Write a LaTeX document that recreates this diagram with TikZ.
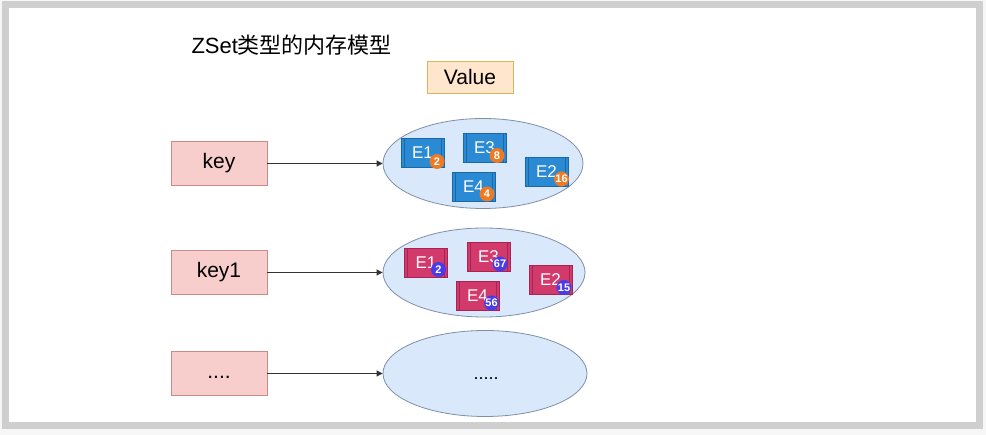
\documentclass[tikz,border=0pt]{standalone}
\usepackage{fontspec}
\setmainfont{Liberation Sans}
\newfontfamily\cjk{Noto Sans CJK SC}
\usetikzlibrary{arrows.meta,shapes.geometric}
\definecolor{frameg}{HTML}{CFCFCF}
\definecolor{keyfill}{HTML}{F8CECC}
\definecolor{keydraw}{HTML}{C98A88}
\definecolor{valfill}{HTML}{FFE6CC}
\definecolor{valdraw}{HTML}{D6B656}
\definecolor{ellfill}{HTML}{DAE8FC}
\definecolor{elldraw}{HTML}{7F8FA8}
\definecolor{bluebox}{HTML}{2B8AD4}
\definecolor{bluedraw}{HTML}{1A68A8}
\definecolor{redbox}{HTML}{D13A6B}
\definecolor{reddraw}{HTML}{A82450}
\definecolor{orbadge}{HTML}{EE7A23}
\definecolor{pubadge}{HTML}{4A3BE8}
\tikzset{
  keybox/.style={draw=keydraw, fill=keyfill, line width=0.8pt, minimum width=96pt, minimum height=44pt, font=\fontsize{21}{24}\selectfont, inner sep=0pt, text height=15pt, text depth=4pt},
  valbox/.style={draw=valdraw, fill=valfill, line width=0.8pt, minimum width=86pt, minimum height=32pt, font=\fontsize{21}{24}\selectfont, inner sep=0pt},
  setell/.style={ellipse, draw=elldraw, fill=ellfill, line width=0.8pt, inner sep=0pt},
  elem/.style={draw=#1draw, fill=#1box, line width=0.6pt, minimum width=43pt, minimum height=29pt, inner sep=0pt, text=white, font=\fontsize{17}{19}\selectfont,
    path picture={\draw[#1draw, line width=0.8pt] ([xshift=3pt]path picture bounding box.north west) -- ([xshift=3pt]path picture bounding box.south west);
                  \draw[#1draw, line width=0.8pt] ([xshift=-3pt]path picture bounding box.north east) -- ([xshift=-3pt]path picture bounding box.south east);}},
  badge/.style={circle, fill=#1, minimum size=15pt, inner sep=0pt, text=white, font=\bfseries\fontsize{11}{11}\selectfont},
  conn/.style={-{Triangle[length=6pt,width=6pt]}, line width=0.8pt, draw=black!80},
}
\begin{document}
\begin{tikzpicture}[x=1pt,y=-1pt]
\useasboundingbox (0,0) rectangle (986,435);
\fill[white!97!black] (0,0) rectangle (986,435);
\draw[frameg, line width=7pt, fill=white] (5.5,5) rectangle (979,426);

\node[anchor=west, font=\fontsize{22}{26}\selectfont] (title) at (188,45) {ZSet\cjk 类型的内存模型};
\node[valbox] (value) at (470,77) {Value};

\node[keybox] (k1) at (219,163.5) {key};
\node[keybox] (k2) at (219,272.5) {key1};
\node[keybox] (k3) at (219,373.5) {....};

\node[setell, minimum width=200pt, minimum height=90pt] (s1) at (483,163.5) {};
\node[setell, minimum width=202pt, minimum height=89pt] (s2) at (484,272.5) {};
\node[setell, minimum width=204pt, minimum height=86pt] (s3) at (485,373.5) {};
\node[font=\fontsize{18}{20}\selectfont, text height=12pt, text depth=0pt, inner sep=0pt] (s3t) at (486,373.5) {.....};

\draw[conn] (k1.east) -- (s1.west);
\draw[conn] (k2.east) -- (s2.west);
\draw[conn] (k3.east) -- (s3.west);

% blue elements
\node[elem=blue] (a1) at (422.5,153) {E1\hspace{5pt}};
\node[elem=blue] (a3) at (484.5,147.5) {E3\hspace{5pt}};
\node[elem=blue] (a4) at (473.5,186.5) {E4\hspace{5pt}};
\node[elem=blue] (a2) at (546.5,171.5) {E2\hspace{5pt}};
\node[badge=orbadge] (ab1) at (437,161.5) {2};
\node[badge=orbadge] (ab3) at (497,155.5) {8};
\node[badge=orbadge] (ab4) at (487,194) {4};
\node[badge=orbadge] (ab2) at (561.5,179) {16};

% red elements
\node[elem=red] (r1) at (426,262.5) {E1\hspace{5pt}};
\node[elem=red] (r3) at (488.5,257) {E3\hspace{7pt}};
\node[elem=red] (r4) at (477.5,295.5) {E4\hspace{7pt}};
\node[elem=red] (r2) at (550.5,279.5) {E2\hspace{7pt}};
\node[badge=pubadge] (rb1) at (438.5,269.5) {2};
\node[badge=pubadge] (rb3) at (500,264) {67};
\node[badge=pubadge] (rb4) at (491.5,303) {56};
\node[badge=pubadge] (rb2) at (564,287.5) {15};
\end{tikzpicture}
\end{document}
